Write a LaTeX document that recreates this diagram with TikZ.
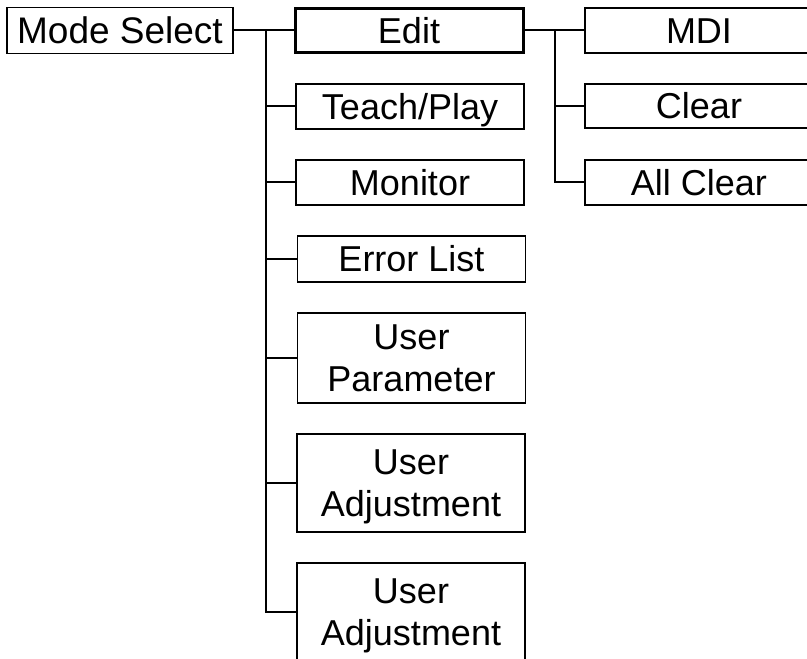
\documentclass[tikz,border=0pt]{standalone}
\usepackage{fontspec}
\setmainfont{Liberation Sans}
\begin{document}
\begin{tikzpicture}[x=1pt,y=1pt,
  box/.style={draw,line width=1.4pt,rectangle,inner sep=0pt,align=center,
    font=\fontsize{36}{42}\selectfont,text height=25.8pt,text depth=0pt,minimum width=228pt},
  twobox/.style={box,text height=67.8pt,text depth=0pt},
  thickbox/.style={box,line width=3pt},
  conn/.style={line width=2pt}]
\clip (0,0) rectangle (807,659);
% y_tikz = 659 - y_px
\node[box,minimum width=226pt,minimum height=46pt,font=\fontsize{37}{42}\selectfont] (ms) at (120,628.5) {Mode Select};
\node[thickbox,minimum height=44pt] (edit) at (409,628.5) {Edit};
\node[box,minimum height=45pt] (tp) at (410,552.5) {Teach/Play};
\node[box,minimum height=45pt] (mon) at (410,476.5) {Monitor};
\node[box,minimum height=46pt] (err) at (411.5,400) {Error List};
\node[twobox,minimum height=90pt] (up) at (411.5,301) {User\\Parameter};
\node[twobox,minimum height=98pt] (ua1) at (411,176) {User\\Adjustment};
\node[twobox,minimum height=98pt] (ua2) at (411,47) {User\\Adjustment};
\node[box,minimum height=45pt] (mdi) at (699,628.5) {MDI};
\node[box,minimum height=44pt] (clr) at (699,553) {Clear};
\node[box,minimum height=45pt] (allc) at (699,476.5) {All Clear};
\coordinate (t0) at (266,628.5);
\coordinate (r0) at (555,628.5);
\draw[conn] (ms.east) -- (edit.west);
\draw[conn] (t0) |- (tp.west);
\draw[conn] (t0) |- (mon.west);
\draw[conn] (t0) |- (err.west);
\draw[conn] (t0) |- (up.west);
\draw[conn] (t0) |- (ua1.west);
\draw[conn] (t0) |- (ua2.west);
\draw[conn] (edit.east) -- (mdi.west);
\draw[conn] (r0) |- (clr.west);
\draw[conn] (r0) |- (allc.west);
\end{tikzpicture}
\end{document}
